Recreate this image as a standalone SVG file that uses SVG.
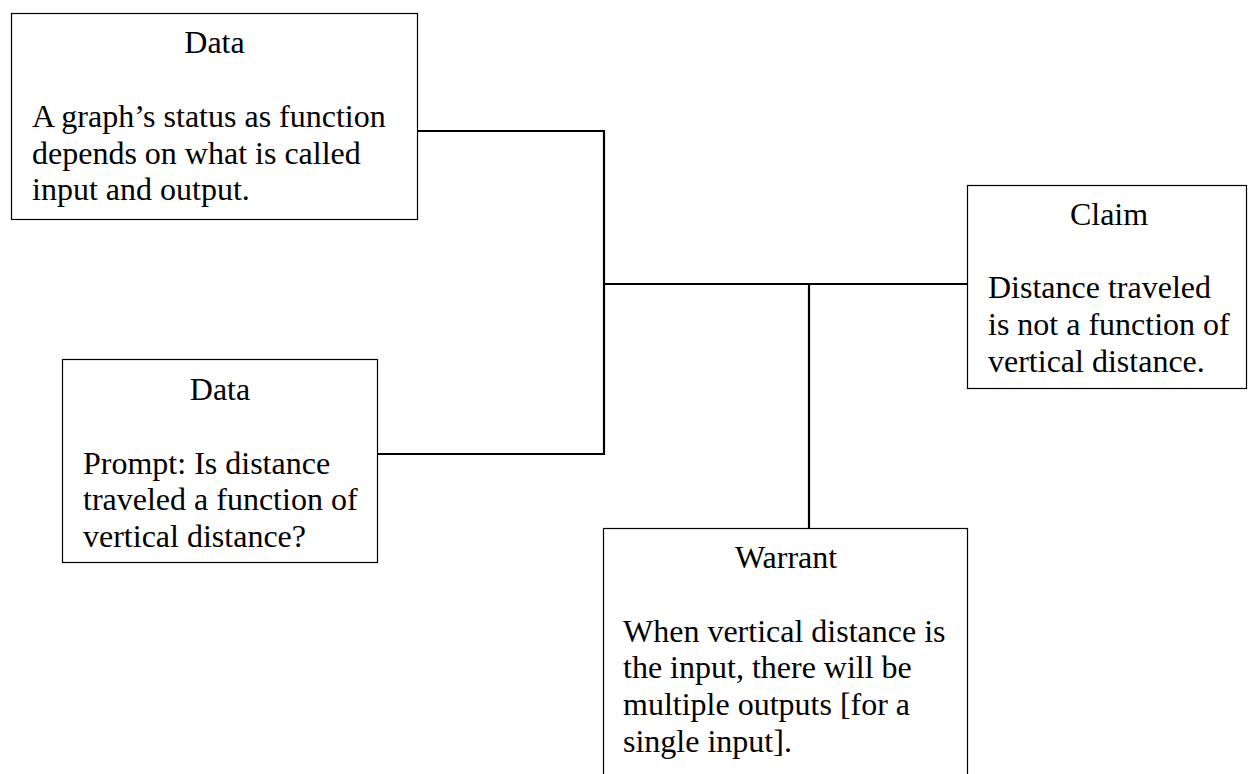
<svg xmlns="http://www.w3.org/2000/svg" width="1248" height="774" viewBox="0 0 1248 774">
  <style>
    .box { fill: #ffffff; stroke: #000000; stroke-width: 1.2; }
    .link { fill: none; stroke: #000000; stroke-width: 2.2; }
    text { font-family: "Liberation Serif", "Times New Roman", serif; font-size: 32px; fill: #000000; }
    .title { text-anchor: middle; }
  </style>
  <rect width="1248" height="774" fill="#ffffff"/>

  <!-- connectors joining data, warrant and claim -->
  <g id="connectors">
    <path class="link" d="M418 131 H604 V454 H378"/>
    <path class="link" d="M604 284 H967"/>
    <path class="link" d="M809 284 V528"/>
  </g>

  <g id="data-graph-status">
    <rect class="box" x="11.5" y="13.5" width="406" height="206"/>
    <text class="title" x="214.5" y="53">Data</text>
    <text x="32" y="127">A graph’s status as function</text>
    <text x="32" y="164">depends on what is called</text>
    <text x="32" y="200">input and output.</text>
  </g>

  <g id="data-prompt">
    <rect class="box" x="62.5" y="359.5" width="315" height="203"/>
    <text class="title" x="220" y="400">Data</text>
    <text x="83" y="474">Prompt: Is distance</text>
    <text x="83" y="510">traveled a function of</text>
    <text x="83" y="547">vertical distance?</text>
  </g>

  <g id="claim">
    <rect class="box" x="967.5" y="185.5" width="279" height="203"/>
    <text class="title" x="1109" y="225">Claim</text>
    <text x="988" y="298">Distance traveled</text>
    <text x="988" y="335">is not a function of</text>
    <text x="988" y="372">vertical distance.</text>
  </g>

  <g id="warrant">
    <rect class="box" x="603.5" y="528.5" width="364" height="260"/>
    <text class="title" x="786" y="568">Warrant</text>
    <text x="623" y="642">When vertical distance is</text>
    <text x="623" y="678">the input, there will be</text>
    <text x="623" y="715">multiple outputs [for a</text>
    <text x="623" y="752">single input].</text>
  </g>
</svg>
